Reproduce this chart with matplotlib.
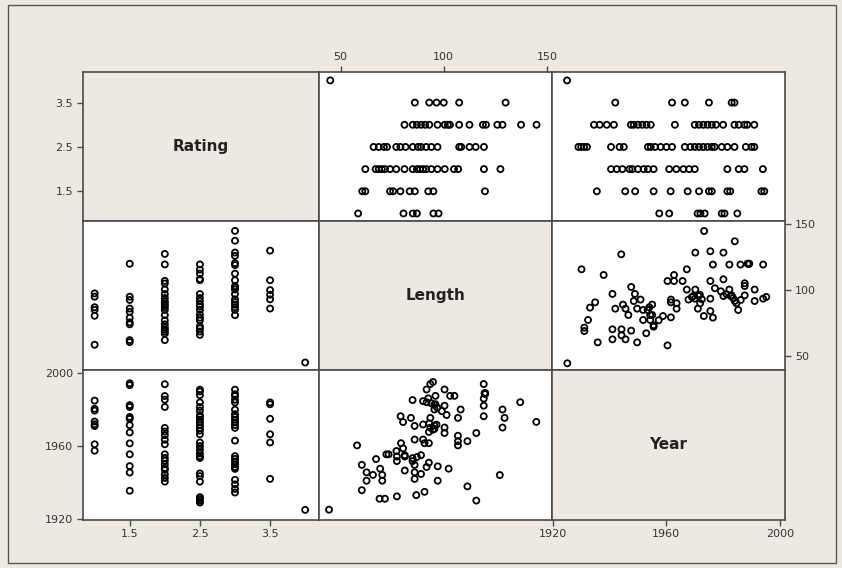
import numpy as np
import matplotlib
matplotlib.use("Agg")
import matplotlib.pyplot as plt
from matplotlib.patches import Rectangle

BG = "#EDE9E2"
EDGE = "#4a4a4a"

VARIABLES = ["Rating", "Length", "Year"]

# Rating vs Length: lengths observed at each rating level
RATING_LEVELS = [4.0, 3.5, 3.0, 2.5, 2.0, 1.5, 1.0]
RL_LENGTHS = [
    [45],
    [86, 93, 96.5, 100, 107.5, 130],
    [81, 85, 87, 89, 91, 93, 97, 100.5, 102, 103, 107.5, 112.5, 119, 120.5,
     126, 128.5, 137.5, 145],
    [66, 68.5, 71, 72.5, 77, 79, 81.5, 85, 87.5, 89, 91.5, 94, 97, 107.5,
     108.5, 112.5, 115.5, 119.5],
    [62, 67, 68.5, 70, 71.5, 74, 77, 81, 85, 87, 88.5, 90, 91.5, 94, 97,
     100.5, 105, 107, 119.5, 127.5],
    [60.5, 62, 74, 75.5, 79, 83.5, 86, 92.5, 95, 120],
    [58.5, 80.5, 85, 87, 95, 97.5],
]

# Rating vs Year: years observed at each rating level
RY_YEARS = [
    [1925],
    [1942, 1962, 1966.5, 1975, 1983, 1984],
    [1934.5, 1936.5, 1939, 1941.5, 1947.5, 1948.5, 1950, 1951.5, 1953, 1954.5,
     1963, 1970, 1971.5, 1973, 1974.5, 1976, 1977.5, 1980, 1984, 1985.5,
     1987.5, 1988.5, 1991],
    [1929, 1930, 1931, 1932, 1940.5, 1943.5, 1945, 1953.5, 1954.5, 1956, 1958,
     1960, 1962, 1966.5, 1968.5, 1970, 1971.5, 1973, 1974.5, 1976, 1977,
     1979.5, 1981.5, 1984, 1988, 1990, 1991],
    [1940.5, 1942.5, 1944.5, 1947, 1948, 1950, 1952, 1953.5, 1955.5, 1961,
     1963.5, 1966, 1968, 1970, 1981.5, 1985.5, 1987.5, 1994],
    [1935.5, 1945.5, 1949, 1955.5, 1961.5, 1967.5, 1971.5, 1975, 1976, 1981.5,
     1982.5, 1993.5, 1994.5],
    [1957.5, 1961, 1971, 1972, 1973.5, 1979.5, 1980.5, 1985],
]

# Length vs Year pairs
LY_YEAR = [1973.3, 1984.1, 1944.1, 1970.2, 1975.5, 1980.1, 1930.1, 1937.9,
           1976.4, 1982.2, 1986.1, 1988.6, 1989.2, 1994.1, 1967.2, 1960.4,
           1962.7, 1962.7, 1965.7, 1975.5, 1980.1, 1987.6, 1987.6, 1947.6,
           1941.0, 1948.9, 1948.5, 1950.9, 1934.9, 1933.1, 1942.0, 1944.7,
           1945.6, 1946.6, 1949.7, 1951.8, 1955.0, 1953.4, 1954.3, 1955.0,
           1954.3, 1961.6, 1961.6, 1963.6, 1963.6, 1967.2, 1970.2, 1967.8,
           1969.0, 1969.5, 1970.1, 1971.3, 1972.5, 1971.9, 1971.1, 1975.5,
           1977.1, 1979.2, 1980.1, 1981.2, 1982.2, 1982.7, 1983.5, 1984.1,
           1984.7, 1985.3, 1986.2, 1987.6, 1991.1, 1991.1, 1994.1, 1995.2,
           1973.2, 1975.5, 1976.4, 1932.4, 1931.1, 1931.1, 1941.0, 1944.2,
           1944.2, 1945.6, 1947.6, 1941.0, 1935.8, 1949.7, 1952.9, 1951.8,
           1955.5, 1955.5, 1957.3, 1958.8, 1961.6, 1960.4, 1925.1, 1971.8,
           1983.0, 1954.0, 1989.0]
LY_LENGTH = [144.9, 137.1, 127.2, 128.5, 129.5, 128.5, 115.8, 111.5,
             119.4, 119.4, 119.4, 120.1, 120.1, 119.4, 115.8, 106.9,
             111.5, 106.9, 106.9, 106.9, 108.2, 105.2, 103.1, 102.4,
             97.1, 97.1, 91.7, 92.8, 90.7, 86.7, 85.9, 89.0,
             85.9, 81.1, 85.9, 84.9, 89.0, 84.9, 81.1, 81.1,
             77.3, 92.8, 90.7, 90.0, 85.9, 100.4, 100.4, 92.8,
             94.8, 95.5, 93.5, 95.5, 93.0, 90.0, 85.9, 93.5,
             101.4, 99.1, 95.5, 96.8, 100.4, 95.5, 94.0, 91.7,
             90.0, 84.9, 92.5, 96.0, 100.4, 91.7, 93.5, 94.8,
             80.3, 84.1, 79.1, 77.3, 71.5, 68.9, 70.2, 70.2,
             65.7, 62.6, 69.2, 62.6, 60.3, 60.3, 67.2, 77.3,
             73.3, 72.2, 77.1, 80.3, 79.3, 58.0, 44.4, 96.5,
             96.0, 87.0, 119.8]

LIMITS = {"Rating": (0.83, 4.19), "Length": (39.3, 152.5), "Year": (1919.7, 2001.8)}
TICKS = {"Rating": [1.5, 2.5, 3.5], "Length": [50, 100, 150], "Year": [1920, 1960, 2000]}

rl_r = np.repeat(RATING_LEVELS, [len(v) for v in RL_LENGTHS])
rl_l = np.concatenate(RL_LENGTHS)
ry_r = np.repeat(RATING_LEVELS, [len(v) for v in RY_YEARS])
ry_y = np.concatenate(RY_YEARS)
ly_y = np.array(LY_YEAR)
ly_l = np.array(LY_LENGTH)

data = {("Rating", "Length"): (rl_r, rl_l),
        ("Length", "Rating"): (rl_l, rl_r),
        ("Rating", "Year"): (ry_r, ry_y),
        ("Year", "Rating"): (ry_y, ry_r),
        ("Length", "Year"): (ly_l, ly_y),
        ("Year", "Length"): (ly_y, ly_l)}

W, H = 842, 568
fig = plt.figure(figsize=(W / 100, H / 100), dpi=100, facecolor=BG)
fig.patches.append(Rectangle((8 / W, 1 - 563 / H), 828 / W, 558 / H,
                             transform=fig.transFigure, fill=False,
                             edgecolor="#555555", linewidth=1.0))

xs = [82.7, 318.5, 552, 785]
ys = [72, 221, 370, 519.5]

axes = [[None] * 3 for _ in range(3)]
for i, rowvar in enumerate(VARIABLES):
    for j, colvar in enumerate(VARIABLES):
        ax = fig.add_axes([xs[j] / W, 1 - ys[i + 1] / H,
                           (xs[j + 1] - xs[j]) / W, (ys[i + 1] - ys[i]) / H])
        axes[i][j] = ax
        ax.set_xlim(LIMITS[colvar])
        ax.set_ylim(LIMITS[rowvar])
        ax.set_xticks([])
        ax.set_yticks([])
        for sp in ax.spines.values():
            sp.set_color(EDGE)
            sp.set_linewidth(1.2)
        if i == j:
            ax.set_facecolor(BG)
            ax.text(0.5, 0.5, rowvar, transform=ax.transAxes, ha="center",
                    va="center", fontsize=11, fontweight="bold", color="#222222")
        else:
            ax.set_facecolor("white")
            xv, yv = data[(colvar, rowvar)]
            ax.scatter(xv, yv, s=19, facecolors="none", edgecolors="black",
                       linewidths=1.3, clip_on=False)

tick_kw = dict(direction="out", length=4, width=1, color=EDGE,
               labelsize=8, labelcolor="#333333", pad=3)

# Rating: left of row 0, bottom of column 0
axes[0][0].set_yticks(TICKS["Rating"])
axes[0][0].tick_params(axis="y", left=True, **tick_kw)
axes[2][0].set_xticks(TICKS["Rating"])
axes[2][0].tick_params(axis="x", bottom=True, **tick_kw)

# Length: top of column 1, right of row 1
axes[0][1].set_xticks(TICKS["Length"])
axes[0][1].tick_params(axis="x", top=True, labeltop=True, bottom=False,
                       labelbottom=False, **tick_kw)
axes[1][2].set_yticks(TICKS["Length"])
axes[1][2].tick_params(axis="y", right=True, labelright=True, left=False,
                       labelleft=False, **tick_kw)

# Year: left of row 2, bottom of column 2
axes[2][0].set_yticks(TICKS["Year"])
axes[2][0].tick_params(axis="y", left=True, **tick_kw)
axes[2][2].set_xticks(TICKS["Year"])
axes[2][2].tick_params(axis="x", bottom=True, **tick_kw)

fig.savefig("out.png", dpi=100, facecolor=BG)
